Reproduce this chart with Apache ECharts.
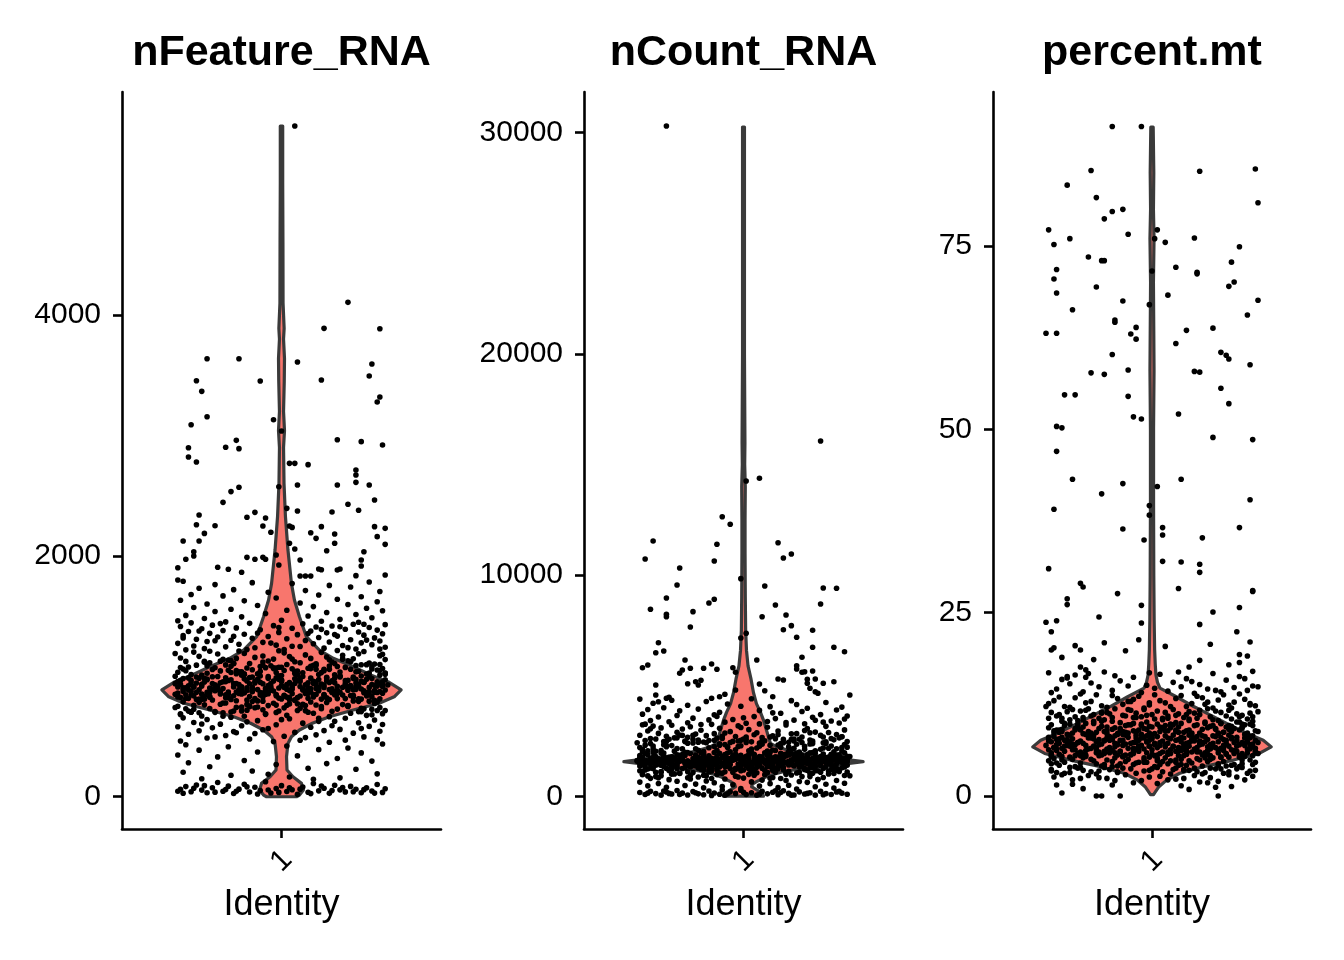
<!DOCTYPE html>
<html><head><meta charset="utf-8">
<script src="https://cdn.jsdelivr.net/npm/echarts@6/dist/echarts.min.js"></script>
<style>html,body{margin:0;padding:0;background:#fff;}#c{width:1344px;height:960px;}</style>
</head><body><div id="c"></div>
<script>
const identities = ['1'];
const panelTitles = ['nFeature_RNA', 'nCount_RNA', 'percent.mt'];
const featTicks = [0, 2000, 4000];
const countTicks = [0, 10000, 20000, 30000];
const mtTicks = [0, 25, 50, 75];
const featRange = [-268, 5853];
const countRange = [-1469, 31835];
const mtRange = [-4.5, 96.0];

// violin profiles: value levels and density (normalised to max = 1)
const featViolinVals = [0,14,56,111,166,222,332,443,498,554,610,664,720,776,830,888,950,1010,1080,1150,1218,1329,1495,1634,1772,2049,2326,2603,2900,3040,3200,3450,3640,3800,3890,4100,4600,5100,5570];
const featViolinDens = [0.125,0.15,0.183,0.167,0.096,0.046,0.042,0.054,0.083,0.15,0.258,0.4,0.6,0.817,0.942,1,0.9,0.75,0.6,0.433,0.317,0.208,0.15,0.108,0.083,0.054,0.033,0.021,0.017,0.025,0.017,0.023,0.025,0.017,0.022,0.013,0.012,0.01,0.01];
const countViolinVals = [14,120,220,330,443,560,669,780,895,1010,1121,1240,1347,1460,1573,1690,1800,1910,2025,2250,2404,2700,3000,3450,3800,4200,4700,5300,5900,6600,7500,9000,11000,12500,14000,15000,16000,20000,25000,30250];
const countViolinDens = [0.167,0.158,0.133,0.1,0.067,0.075,0.108,0.15,0.192,0.25,0.333,0.458,0.625,0.833,1,0.833,0.642,0.517,0.417,0.275,0.225,0.208,0.192,0.167,0.142,0.108,0.083,0.063,0.038,0.025,0.018,0.015,0.013,0.013,0.015,0.01,0.012,0.008,0.008,0.008];
const mtViolinVals = [0.2,0.4,1.27,2.2,3.1,4.0,4.9,5.8,6.7,7.6,8.55,9.7,11.3,12.2,13.5,14.7,15.5,16.5,18,20,24,30,40,50,58,63,70,76,80,85,91.2];
const mtViolinDens = [0.013,0.021,0.058,0.125,0.233,0.433,0.683,0.9,1,0.933,0.792,0.65,0.458,0.35,0.208,0.067,0.046,0.033,0.027,0.022,0.018,0.015,0.013,0.013,0.017,0.015,0.012,0.017,0.012,0.015,0.01];

// cells: alternating [jitter (hundredths of a category), value]
const featPts = [
5,5571,25,4106,16,3890,37,3887,-28,3638,-16,3638,6,3610,34,3594,-32,3455,-8,3453,15,3461,33,3494,-30,3367,37,3320,36,3278,-28,3156,-34,3090,-3,3131,0,3037,21,2965,30,2949,38,2921,-35,2899,-21,2902,-17,2960,-16,2891,-35,2822,-32,2780,3,2769,5,2769,10,2758,-1,2575,6,2589,21,2589,28,2714,28,2672,28,2611,33,2589,-16,2570,-19,2534,-22,2445,35,2464,25,2429,29,2379,19,2365,6,2373,2,2395,-10,2362,-13,2321,-6,2315,-31,2340,-32,2259,-25,2251,-7,2248,3,2248,4,2237,-4,2196,11,2193,15,2243,20,2182,13,2146,35,2243,39,2229,36,2160,-29,2187,-37,2124,-31,2124,39,2096,3,2105,5,2057,20,2105,17,2043,31,2035,-33,2035,-33,1999,-13,1988,-10,1972,-7,1988,-6,1972,-2,2008,-36,1972,7,1966,30,1966,30,1916,-39,1902,-24,1906,-20,1889,-15,1864,14,1891,15,1885,21,1883,22,1891,39,1841,-1,1925,-39,1800,7,1833,9,1833,11,1833,28,1836,
-37,1790,-25,1762,-11,1778,4,1771,18,1755,33,1783,-31,1731,-18,1720,9,1712,26,1742,37,1705,-5,1698,-34,1680,14,1676,-22,1668,30,1661,-2,1650,21,1640,-38,1632,-14,1627,36,1619,7,1609,-28,1601,25,1596,-9,1588,12,1579,-33,1571,32,1566,-19,1557,2,1549,38,1545,-25,1538,17,1530,-6,1522,28,1514,-36,1506,10,1501,-15,1494,34,1487,-29,1480,22,1473,0,1466,-39,1461,15,1457,-21,1452,29,1449,
-34,1444,-12,1440,8,1437,27,1433,39,1429,-26,1425,-3,1421,19,1418,-38,1414,13,1410,33,1406,-17,1402,4,1399,-30,1395,24,1391,-8,1387,36,1384,-22,1380,11,1376,-35,1372,29,1368,-1,1365,17,1361,-27,1357,38,1353,-14,1349,6,1346,31,1342,-37,1338,21,1334,-5,1331,-24,1327,14,1323,35,1319,-11,1316,2,1312,-32,1308,26,1304,-19,1300,9,1297,37,1293,-28,1289,18,1285,-7,1282,30,1278,-39,1274,12,1271,-16,1267,34,1263,-2,1259,23,1256,-33,1252,7,1248,-21,1245,39,1241,-10,1237,16,1234,-29,1230,28,1227,1,1223,-36,1220,-23,1438,22,1412,-31,1377,10,1355,-18,1333,32,1301,-4,1276,25,1238,-13,1222,37,1226,-9,1360,15,1390,-25,1295,4,1250,31,1432,-37,1318,20,1347,-1,1405,
-38,1152,-33,1201,-29,1117,-24,1185,-20,1134,-16,1210,-12,1106,-7,1168,-3,1143,1,1195,5,1121,9,1178,13,1103,17,1160,21,1214,25,1129,29,1187,33,1111,37,1171,39,1139,
-36,1124,-31,1166,-27,1208,-22,1141,-18,1108,-14,1190,-10,1157,-5,1127,-1,1212,3,1164,7,1113,11,1149,15,1199,19,1118,23,1175,27,1145,31,1206,35,1102,38,1183,-40,1189,
-39,1034,-35,1078,-30,1011,-26,1057,-21,1095,-17,1022,-13,1069,-8,1041,-4,1088,0,1006,4,1063,8,1029,12,1091,16,1047,20,1013,24,1074,28,1038,32,1097,36,1052,39,1018,
-37,1061,-32,1093,-28,1026,-23,1045,-19,1083,-15,1009,-11,1055,-6,1072,-2,1031,2,1098,6,1044,10,1067,14,1015,18,1086,22,1036,26,1059,30,1003,34,1079,37,1049,-9,1020,
-34,1014,-25,1071,-16,1037,-7,1092,5,1024,13,1058,21,1081,29,1042,38,1065,-20,1050,0,1076,33,1027,
-39,957,-35,921,-31,984,-27,903,-23,946,-19,972,-15,914,-11,995,-7,938,-3,961,1,907,5,979,9,929,13,952,17,991,21,918,25,966,29,934,33,999,37,943,
-37,982,-33,911,-29,953,-25,927,-21,988,-17,940,-13,904,-9,969,-5,923,-1,976,3,948,7,916,11,985,15,936,19,962,23,909,27,993,31,950,35,925,39,971,
-38,933,-34,968,-30,919,-26,996,-22,955,-18,912,-14,979,-10,944,-6,901,-2,987,2,931,6,963,10,906,14,974,18,949,22,997,26,915,30,958,34,981,38,920,
-36,905,-32,945,-28,977,-24,915,-20,965,-16,932,-12,990,-8,951,-4,912,0,970,4,925,8,998,12,959,16,908,20,983,24,941,28,913,32,975,36,954,-40,939,
-39,862,-35,817,-31,889,-27,834,-23,871,-19,808,-15,853,-11,896,-7,828,-3,878,1,842,5,805,9,866,13,899,17,821,21,857,25,885,29,813,33,848,37,874,
-37,893,-33,838,-29,810,-25,881,-21,846,-17,869,-13,803,-9,891,-5,855,-1,819,3,883,7,836,11,872,15,811,19,897,23,844,27,826,31,864,35,801,39,887,
-38,826,-34,875,-30,852,-26,804,-22,898,-18,839,-14,861,-10,816,-6,884,-2,849,2,893,6,823,10,858,14,880,18,807,22,870,26,841,30,895,34,831,38,859,
-36,846,-32,807,-28,868,-24,890,-20,823,-16,877,-12,833,-8,865,-4,897,0,812,4,856,8,886,12,829,16,848,20,874,24,815,28,892,32,838,36,866,-40,851,
-39,752,-35,711,-31,784,-27,733,-23,768,-19,704,-15,745,-11,791,-7,722,-3,776,1,738,5,799,9,715,13,762,17,783,21,728,25,757,29,707,33,794,37,741,
-37,788,-33,727,-29,763,-25,701,-21,779,-17,742,-13,719,-9,796,-5,757,-1,712,3,771,7,734,11,787,15,748,19,709,23,765,27,795,31,730,35,774,39,716,
-38,683,-30,671,-22,697,-14,668,-6,689,2,676,10,702,18,665,26,693,34,680,-34,704,-18,712,6,716,30,707,-2,699,38,690,
-40,1001,-37,873,-34,946,-31,812,-28,1087,-25,905,-22,778,-19,1032,-16,857,-13,962,-10,739,-7,1118,-4,884,-1,1003,2,827,5,941,8,768,11,1064,14,899,17,986,20,846,23,1142,26,917,29,792,32,1019,35,868,38,954,
-39,911,-36,1046,-33,759,-30,934,-27,867,-24,999,-21,822,-18,1105,-15,893,-12,748,-9,975,-6,851,-3,1071,0,924,3,806,6,1013,9,878,12,940,15,731,18,1058,21,887,24,964,27,842,30,1096,33,908,36,786,39,1027,
-38,1073,-35,886,-32,995,-29,836,-26,941,-23,1126,-20,869,-17,797,-14,1018,-11,910,-8,845,-5,983,-2,761,1,1049,4,892,7,958,10,818,13,1093,16,927,19,871,22,1004,25,753,28,945,31,880,34,1061,37,813,40,929,
-37,655,-28,641,-19,660,-9,632,3,648,14,626,24,652,35,637,-33,617,-23,603,-13,622,-2,598,8,611,19,589,29,615,38,600,-39,581,-26,572,-15,590,-5,566,11,577,22,559,33,584,-31,548,-18,541,-7,556,5,535,16,549,27,528,37,544,-35,519,-21,509,-10,525,1,502,13,514,31,497,-28,488,-12,479,9,491,24,470,-38,463,-3,458,18,452,36,474,-17,532,30,566,-30,604,0,640,20,627,-25,497,7,469,
-36,432,-20,415,2,421,25,405,38,438,-31,387,-9,372,14,391,30,364,-39,346,-24,331,6,339,21,317,-14,301,34,296,-35,282,-2,268,17,275,-27,249,10,236,28,228,-11,214,-37,203,36,190,-19,178,3,164,22,157,-30,149,12,145,-5,186,
-38,62,-36,84,-34,41,-32,97,-30,55,-28,33,-26,74,-24,118,-22,46,-20,88,-18,27,-16,63,-14,104,-12,39,-10,79,-8,52,-6,125,-4,31,-2,68,0,92,2,44,4,58,6,21,8,81,10,37,12,110,14,49,16,70,18,28,20,95,22,57,24,40,26,86,28,62,30,33,32,75,34,48,36,101,38,36,39,66,-37,29,-33,71,-29,92,-25,38,-21,60,-17,45,-13,82,-9,23,-5,56,-1,36,3,74,7,63,11,26,15,89,19,52,23,77,27,41,31,59,35,30,-39,45
];

const countPts = [
-29,30300,29,16065,6,14380,1,14258,-8,12644,-5,12300,-34,11546,-37,10733,-10,11397,-11,10642,13,11469,15,10778,18,10959,-24,10326,-25,9558,-29,8970,-35,8459,-29,8233,-29,8125,-19,8352,-20,7660,-13,8744,-11,8911,-1,9843,8,9513,12,8654,7,8125,16,8202,15,7538,18,7719,20,7194,30,9422,35,9408,29,8699,26,7511,26,6742,34,6742,38,6544,-1,7163,1,7375,-32,6950,-33,6498,-30,6575,-38,5821,-36,5942,-22,6168,-20,5793,-23,5717,-24,5567,-21,5097,-18,5188,-17,5039,-16,5251,-15,5793,-12,5988,-10,5748,-33,5039,-4,5821,-3,5612,5,6168,6,5084,13,5310,15,5265,20,5911,20,5762,22,6290,22,5612,23,5640,26,5671,24,5296,24,5115,27,5310,30,5115,34,5188,25,4890,27,4736,28,4664,40,4587,8,4781,11,4510,-3,4813,-7,4618,-9,4510,-12,4438,-33,4587,-32,4284,-29,4438,
-39,4402,-34,4215,-27,4350,-21,4120,-14,4290,-6,4180,3,4420,10,4060,18,4330,24,3990,31,4250,37,4040,-36,3930,-30,4010,-24,3870,-17,3950,-9,3810,-1,4075,6,3890,14,3760,22,3840,29,3700,35,3910,39,3640,-38,3720,-32,3590,-25,3660,-19,3540,-11,3690,-4,3480,4,3610,12,3520,19,3450,26,3580,33,3410,38,3500,-35,3430,-28,3380,-21,3330,-13,3460,-7,3360,1,3310,9,3390,16,3340,23,3290,30,3360,36,3320,-37,3270,-16,3250,0,3555,27,3445,-10,3620,20,4155,-28,4480,11,3780,
-38,3240,-34,3180,-31,3100,-27,3220,-23,3050,-20,3150,-16,2990,-12,3260,-9,3080,-5,2930,-2,3190,2,3020,5,2880,9,3130,13,2960,16,3230,20,2840,24,3070,27,2910,31,3170,35,2800,38,3010,-39,2770,-36,2960,-32,2850,-29,2720,-25,2900,-21,2680,-18,2820,-14,2750,-10,2640,-7,2870,-3,2710,0,2600,4,2790,7,2660,11,2740,15,2580,18,2830,22,2690,25,2550,29,2760,33,2620,37,2700,-37,2530,-33,2600,-30,2480,-26,2650,-22,2510,-19,2580,-15,2460,-11,2540,-8,2620,-4,2490,1,2560,3,2470,8,2520,12,2610,17,2450,21,2590,26,2500,30,2430,34,2560,39,2480,-35,3060,-24,2780,-13,2530,-1,3120,10,2690,23,2980,32,2890,-28,2590,6,3280,19,2510,36,2650,
-39,2210,-35,2390,-31,2080,-27,2300,-23,2150,-19,2420,-15,2030,-11,2260,-7,2350,-3,2110,1,2440,5,2190,9,2050,13,2330,17,2240,21,2010,25,2370,29,2130,33,2280,37,2060,
-37,2320,-33,2040,-29,2250,-25,2170,-21,2410,-17,2090,-13,2200,-9,2380,-5,2020,-1,2290,3,2140,7,2360,11,2100,15,2430,19,2180,23,2270,27,2070,31,2400,35,2160,39,2230,
-38,2120,-30,2340,-22,2000,-14,2430,-6,2220,2,2070,10,2310,18,2130,26,2390,34,2020,-34,2280,-18,2160,6,2410,30,2190,-2,2260,38,2350,-26,2050,14,2230,22,2440,-10,2090,
-39,1850,-35,1730,-31,1960,-27,1790,-23,1900,-19,1710,-15,1870,-11,1990,-7,1760,-3,1920,1,1820,5,1700,9,1940,13,1780,17,1880,21,1740,25,1970,29,1810,33,1910,37,1750,
-37,1930,-33,1800,-29,1720,-25,1880,-21,1990,-17,1770,-13,1840,-9,1950,-5,1710,-1,1860,3,1980,7,1790,11,1730,15,1900,19,1830,23,1700,27,1950,31,1760,35,1870,39,1820,
-38,1760,-34,1990,-30,1830,-26,1730,-22,1950,-18,1870,-14,1720,-10,1810,-6,1960,-2,1740,2,1890,6,1800,10,1990,14,1750,18,1930,22,1860,26,1710,30,1920,34,1780,38,1970,
-36,1890,-28,1770,-20,1940,-12,1730,-4,1850,4,1910,12,1790,20,1960,28,1740,36,1880,-32,1700,-16,1980,0,1750,16,1830,32,1720,-24,1860,-8,1790,8,1970,24,1900,40,1810,
-39,1580,-35,1470,-31,1650,-27,1520,-23,1690,-19,1560,-15,1460,-11,1620,-7,1530,-3,1680,1,1490,5,1600,9,1550,13,1670,17,1480,21,1590,25,1640,29,1510,33,1610,37,1550,
-37,1630,-33,1540,-29,1690,-25,1460,-21,1600,-17,1510,-13,1660,-9,1570,-5,1450,-1,1620,3,1530,7,1680,11,1590,15,1470,19,1650,23,1520,27,1600,31,1690,35,1480,39,1570,
-38,1510,-34,1610,-30,1570,-26,1680,-22,1490,-18,1640,-14,1550,-10,1700,-6,1600,-2,1470,2,1650,6,1560,10,1500,14,1620,18,1580,22,1690,26,1460,30,1580,34,1660,38,1520,
-36,1560,-32,1660,-28,1490,-24,1600,-20,1530,-16,1670,-12,1580,-8,1480,-4,1640,0,1560,4,1690,8,1510,12,1600,16,1550,20,1470,24,1630,28,1590,32,1500,36,1620,-40,1600,
-39,1700,-31,1520,-23,1610,-15,1580,-7,1660,1,1540,9,1620,17,1590,25,1500,33,1570,-27,1470,-11,1690,5,1460,21,1650,37,1610,
-39,1380,-35,1290,-31,1430,-27,1330,-23,1260,-19,1400,-15,1310,-11,1440,-7,1350,-3,1270,1,1410,5,1320,9,1370,13,1250,17,1420,21,1340,25,1290,29,1390,33,1440,37,1300,
-37,1320,-33,1410,-29,1270,-25,1360,-21,1440,-17,1290,-13,1390,-9,1330,-5,1260,-1,1420,3,1350,7,1280,11,1430,15,1310,19,1380,23,1260,27,1400,31,1340,35,1280,39,1410,
-38,1440,-30,1350,-22,1300,-14,1420,-6,1370,2,1260,10,1340,18,1440,26,1310,34,1380,-34,1260,-18,1380,-2,1300,14,1400,30,1270,-26,1420,-10,1280,6,1410,22,1360,38,1330,
-39,1160,-33,1090,-27,1220,-21,1120,-15,1190,-9,1070,-3,1240,3,1140,9,1080,15,1210,21,1100,27,1170,33,1230,39,1110,-36,1240,-24,1060,-12,1150,0,1200,12,1090,24,1180,36,1130,
-37,1200,-31,1130,-25,1250,-19,1080,-13,1220,-7,1120,-1,1160,5,1070,11,1240,17,1140,23,1210,29,1100,35,1190,-28,1170,-16,1230,-4,1090,8,1180,20,1060,32,1150,-10,1200,
-40,1620,-37,1530,-34,1760,-31,1410,-28,1680,-25,1590,-22,1850,-19,1480,-16,1720,-13,1610,-10,1540,-7,1900,-4,1660,-1,1430,2,1780,5,1570,8,1640,11,1360,14,1700,17,1520,20,1820,23,1600,26,1450,29,1750,32,1560,35,1690,38,1490,
-39,1740,-36,1600,-33,1480,-30,1810,-27,1560,-24,1700,-21,1420,-18,1620,-15,1940,-12,1510,-9,1670,-6,1580,-3,1830,0,1640,3,1470,6,1720,9,1590,12,2080,15,1550,18,1660,21,1390,24,1780,27,1530,30,1620,33,1880,36,1580,39,1650,
-38,980,-35,2620,-32,850,-29,2480,-26,1020,-23,2760,-20,790,-17,2550,-14,930,-11,2840,-8,1050,-5,2440,-2,880,1,2690,4,960,7,2510,10,820,13,2790,16,1000,19,2600,22,900,25,2880,28,770,31,2470,34,1040,37,2700,40,940,
-38,1010,-31,940,-24,1040,-17,880,-10,990,-3,920,4,1030,11,860,18,970,25,900,32,1020,38,950,-35,820,-28,760,-21,850,-14,700,-7,790,0,830,7,740,14,810,21,680,28,770,35,720,-39,650,-32,590,-25,690,-18,560,-11,620,-4,530,3,660,10,580,17,510,24,640,31,550,38,600,-36,480,-29,420,-22,500,-15,390,-8,450,-1,360,6,470,13,400,20,340,27,440,34,380,-20,950,2,1000,16,720,-12,810,30,860,-33,900,
-39,180,-37,90,-35,240,-33,130,-31,60,-29,200,-27,110,-25,270,-23,150,-21,70,-19,220,-17,120,-15,80,-13,250,-11,160,-9,100,-7,60,-5,210,-3,140,-1,280,1,90,3,170,5,60,7,230,9,120,11,190,13,80,15,260,17,140,19,70,21,210,23,110,25,170,27,60,29,240,31,130,33,90,35,200,37,150,39,100,-36,150,-30,250,-24,90,-18,170,-12,50,-6,120,0,190,6,100,12,260,18,60,24,140,30,80,36,230,-28,140,14,180,-8,290
];

const mtPts = [
-15,91.3,-4,91.3,-23,85.3,18,85.2,39,85.5,-32,83.3,40,80.9,-21,81.6,-15,79.7,-11,80.0,-18,78.7,-39,77.2,2,77.2,-37,75.2,-31,76.0,-9,76.6,1,76.0,5,75.5,16,76.1,33,74.9,-24,73.5,-19,73.0,-18,73.0,30,72.8,-36,71.8,0,71.6,9,72.1,17,71.4,17,71.2,-37,70.5,31,70.1,29,69.5,-21,69.4,-36,68.6,6,68.3,-11,67.5,40,67.6,-1,67.0,-30,66.3,36,65.6,-14,64.9,-14,64.6,-6,63.9,23,63.8,13,63.5,-40,63.1,-36,63.1,-8,63.0,-6,62.3,9,61.7,26,60.5,28,60.1,29,59.6,-15,60.2,37,58.8,-23,57.7,-18,57.5,-9,58.1,16,57.9,18,57.8,-33,54.7,-29,54.7,-9,54.5,26,55.6,29,53.5,10,52.1,-7,51.7,-4,51.4,-36,50.4,-34,50.2,23,48.9,38,48.6,-36,47.0,-30,43.2,11,43.2,-11,42.6,-19,41.2,2,42.2,37,40.4,-37,39.1,-1,39.6,-1,38.3,-11,36.4,4,36.6,4,35.6,-3,34.9,33,36.6,19,35.2,-39,31.0,4,32.0,11,31.9,18,31.6,18,30.5,-27,29.0,-26,28.5,10,28.3,-13,27.6,38,28.0,38,27.9,-32,26.9,-32,26.1,-4,26.0,33,25.7,23,25.1,-20,24.4,-40,23.7,-36,23.9,-4,23.6,18,23.4,-38,22.4,32,22.4,-5,21.3,37,21.0,-18,20.9,22,20.7,5,20.4,-29,20.5,-38,19.9,-37,20.2,-27,19.9,-10,19.8,-34,18.9,-22,18.6,33,19.3,33,18.2,36,19.1,18,18.5,14,17.6,29,17.9,-27,17.6,-25,17.2,-24,16.7,38,17.0,-32,16.3,-32,16.1,
-39,16.8,-34,15.9,-29,16.5,-23,15.4,-18,16.9,-12,15.7,-7,16.2,-2,15.1,3,16.6,8,15.5,13,16.0,18,15.2,23,16.7,28,15.8,33,16.3,38,15.0,-36,14.6,-31,15.3,-26,14.2,-20,14.9,-15,14.4,-9,15.0,-4,14.1,1,14.7,6,14.3,11,14.9,16,14.0,21,14.6,26,14.2,31,14.8,36,14.4,40,14.9,-38,14.1,-14,16.4,10,16.9,35,16.0,-25,16.2,24,14.4,-1,16.8,15,15.6,
-39,12.6,-35,13.5,-31,12.1,-27,13.9,-23,12.9,-19,12.3,-15,13.7,-11,12.5,-7,13.2,-3,12.0,1,13.8,5,12.7,9,13.3,13,12.2,17,13.6,21,12.8,25,13.1,29,12.4,33,13.9,37,12.6,-37,13.0,-33,12.2,-29,13.4,-25,12.7,-21,13.8,-17,12.1,-13,13.3,-9,12.9,-5,13.6,-1,12.4,3,13.0,7,12.2,11,13.7,15,12.6,19,13.4,23,12.0,27,13.8,31,12.8,35,13.2,39,12.3,
-38,11.4,-34,10.2,-30,11.8,-26,10.7,-22,11.1,-18,10.4,-14,11.9,-10,10.9,-6,11.3,-2,10.1,2,11.6,6,10.6,10,11.2,14,10.3,18,11.7,22,10.8,26,11.4,30,10.5,34,11.0,38,10.2,-36,10.9,-32,11.5,-28,10.3,-24,11.9,-20,10.6,-16,11.2,-12,10.0,-8,11.7,-4,10.8,0,11.1,4,10.4,8,11.8,12,10.7,16,11.3,20,10.1,24,11.6,28,10.9,32,11.2,36,10.5,40,11.5,-39,10.6,-35,11.1,-31,10.4,-27,11.6,-23,10.9,-19,11.4,-15,10.2,-11,11.0,-7,10.7,-3,11.8,1,10.5,5,11.4,9,10.0,13,11.1,17,10.6,21,11.9,25,10.3,29,11.7,33,10.8,37,11.3,
-39,9.3,-35,8.7,-31,9.8,-27,9.0,-23,8.6,-19,9.5,-15,9.1,-11,8.8,-7,9.9,-3,9.2,1,8.5,5,9.6,9,9.0,13,8.9,17,9.7,21,9.3,25,8.6,29,9.4,33,9.0,37,9.8,-37,8.9,-33,9.6,-29,9.2,-25,9.9,-21,8.7,-17,9.4,-13,8.5,-9,9.7,-5,9.0,-1,9.5,3,8.8,7,9.3,11,9.9,15,8.6,19,9.1,23,9.6,27,8.7,31,9.2,35,9.7,39,8.9,-38,9.7,-34,9.1,-30,8.6,-26,9.4,-22,9.9,-18,8.8,-14,9.3,-10,9.6,-6,8.7,-2,9.1,2,9.8,6,8.9,10,9.4,14,9.0,18,8.6,22,9.5,26,9.9,30,8.8,34,9.3,38,9.6,-36,9.0,-28,9.8,-20,9.2,-12,8.9,-4,9.6,4,9.2,12,8.7,20,9.9,28,9.4,36,8.6,
-39,7.8,-35,7.2,-31,8.3,-27,7.5,-23,8.0,-19,7.1,-15,7.7,-11,8.4,-7,7.3,-3,7.9,1,7.0,5,8.2,9,7.6,13,7.2,17,8.1,21,7.7,25,7.4,29,8.3,33,7.0,37,7.9,-37,8.1,-33,7.6,-29,7.0,-25,8.4,-21,7.4,-17,7.9,-13,7.1,-9,8.0,-5,7.6,-1,8.3,3,7.3,7,7.8,11,8.0,15,7.5,19,7.1,23,8.2,27,7.7,31,7.3,35,8.4,39,7.6,-38,7.4,-34,8.0,-30,7.8,-26,7.2,-22,8.3,-18,7.6,-14,8.2,-10,7.1,-6,7.9,-2,7.4,2,8.1,6,7.2,10,7.7,14,8.3,18,7.5,22,7.0,26,8.0,30,7.8,34,7.3,38,8.2,-36,7.7,-32,8.4,-28,7.3,-24,7.9,-20,7.0,-16,8.1,-12,7.6,-8,7.2,-4,8.4,0,7.8,4,7.5,8,8.3,12,7.0,16,7.9,20,7.4,24,8.1,28,7.2,32,7.6,36,7.9,40,7.3,
-39,6.3,-35,5.7,-31,6.8,-27,6.0,-23,6.5,-19,5.6,-15,6.2,-11,6.9,-7,5.8,-3,6.4,1,5.5,5,6.7,9,6.1,13,5.7,17,6.6,21,6.2,25,5.9,29,6.8,33,5.5,37,6.4,-37,6.6,-33,6.1,-29,5.5,-25,6.9,-21,5.9,-17,6.4,-13,5.6,-9,6.5,-5,6.1,-1,6.8,3,5.8,7,6.3,11,6.5,15,6.0,19,5.6,23,6.7,27,6.2,31,5.8,35,6.9,39,6.1,-38,5.9,-34,6.5,-30,6.3,-26,5.7,-22,6.8,-18,6.1,-14,6.7,-10,5.6,-6,6.4,-2,5.9,2,6.6,6,5.7,10,6.2,14,6.8,18,6.0,22,5.5,26,6.5,30,6.3,34,5.8,38,6.7,-36,6.2,-32,6.9,-28,5.8,-24,6.4,-20,5.5,-16,6.6,-12,6.1,-8,5.7,-4,6.9,0,6.3,4,6.0,8,6.8,12,5.5,16,6.4,20,5.9,24,6.6,28,5.7,32,6.1,36,6.4,40,5.8,
-39,4.8,-35,4.2,-31,5.3,-27,4.5,-23,5.0,-19,4.1,-15,4.7,-11,5.4,-7,4.3,-3,4.9,1,4.0,5,5.2,9,4.6,13,4.2,17,5.1,21,4.7,25,4.4,29,5.3,33,4.0,37,4.9,-37,5.1,-33,4.6,-29,4.0,-25,5.4,-21,4.4,-17,4.9,-13,4.1,-9,5.0,-5,4.6,-1,5.3,3,4.3,7,4.8,11,5.0,15,4.5,19,4.1,23,5.2,27,4.7,31,4.3,35,5.4,39,4.6,-38,4.4,-30,5.0,-22,4.8,-14,5.2,-6,4.5,2,5.1,10,4.2,18,4.9,26,5.3,34,4.4,-34,4.9,-18,4.3,-2,4.6,14,4.8,30,4.2,-26,5.2,-10,4.7,6,4.4,22,5.0,38,4.3,
-40,6.9,-37,8.6,-34,5.4,-31,7.3,-28,9.5,-25,6.2,-22,7.8,-19,10.2,-16,5.9,-13,7.0,-10,8.3,-7,6.5,-4,9.8,-1,7.6,2,5.6,5,8.9,8,6.7,11,7.4,14,10.5,17,6.0,20,8.1,23,7.2,26,5.3,29,9.1,32,6.8,35,7.9,38,10.8,
-39,8.0,-36,6.4,-33,9.9,-30,7.1,-27,5.5,-24,8.8,-21,6.6,-18,7.5,-15,10.7,-12,6.1,-9,8.6,-6,7.3,-3,5.2,0,9.4,3,6.9,6,7.9,9,11.0,12,6.3,15,8.4,18,7.0,21,5.7,24,9.2,27,6.6,30,8.0,33,10.1,36,7.4,39,5.9,
-38,5.6,-35,9.0,-32,7.7,-29,6.3,-26,10.4,-23,7.9,-20,6.0,-17,8.9,-14,7.2,-11,5.4,-8,9.7,-5,6.8,-2,8.2,1,7.1,4,10.6,7,5.8,10,8.7,13,6.5,16,9.6,19,7.3,22,5.1,25,8.5,28,7.6,31,6.2,34,9.3,37,7.0,40,8.8,
-38,3.6,-33,3.1,-28,3.8,-23,3.3,-18,3.9,-13,3.2,-8,3.7,-3,3.4,2,3.9,7,3.0,12,3.6,17,3.3,22,3.8,27,3.1,32,3.7,37,3.4,-36,3.2,-31,3.9,-26,3.5,-21,3.0,-16,3.6,-11,3.8,-6,3.1,-1,3.5,4,3.3,9,3.8,14,3.5,19,3.0,24,3.7,29,3.3,34,3.9,39,3.5,-20,3.4,0,3.7,20,3.2,
-37,2.6,-30,2.2,-24,2.8,-17,2.4,-10,2.9,-4,2.1,3,2.7,9,2.3,16,2.8,22,2.5,29,2.9,35,2.2,-34,2.9,-27,2.4,-14,2.1,-1,2.6,12,2.4,25,2.0,38,2.7,-20,2.5,6,2.2,32,2.6,
-21,0.0,-19,0.0,-12,0.0,25,0.0,-34,0.4,-36,1.5,-26,1.0,24,1.2,11,1.4,-7,1.8,18,1.9,21,1.8,-30,1.6,30,1.3,2,1.7,-15,1.5,14,0.9
];

// extra cells in the dense cores: jitter positions shared, values per panel
const coreJitter = [-33,12,-8,27,-21,3,38,-14,19,-37,7,-2,31,-26,15,-11,24,-30,0,35,-18,9,-5,29,-39,17,-24,5,33,-12,21,-35,-1,13,-28,26,-7,37,-16,10];
const featCoreExtra = [912,847,1003,889,956,821,934,1018,866,905,979,838,951,893,1031,874,925,809,968,882,941,857,998,916,829,962,897,1042,871,938,815,987,903,850,972,924,861,1010,890,946,
868,931,794,975,852,909,1026,883,946,818,895,1001,863,927,842,958,901,983,836,919,1047,879,941,811,966,891,854,1012,932,873,996,845,958,907,826,981,869,915,1038,899,
702,1083,745,1121,668,760,1098,713,1137,689,772,1064,735,1112,651,754,1146,697,1075,726,1130,763,684,1090,741,1058,708,1143,676,767,1106,731,1069,693,1125,749,1081,716,1149,758];
const countCoreExtra = [1520,1680,1430,1790,1600,1350,1710,1560,1900,1470,1630,1820,1540,1390,1750,1610,1480,1960,1570,1660,1410,1840,1590,1700,1500,2030,1620,1450,1770,1550,1880,1640,1370,1730,1580,1990,1510,1690,1440,1810,
1650,1460,1740,1580,1330,1870,1620,1510,1690,2070,1560,1420,1780,1600,1920,1490,1670,1550,1380,1800,1630,1470,1720,1590,2010,1530,1680,1400,1850,1610,1500,1760,1570,1950,1640,1360,1710,1540,1830,1600,
2150,1180,2320,1050,2480,1260,2210,960,2590,1130,2270,1220,2690,1010,2390,1290,2130,1100,2540,1240,2770,980,2240,1160,2430,1070,2650,1200,2180,1120,2360,930,2510,1270,2290,1040,2720,1190,2450,1090];
const mtCoreExtra = [6.8,7.9,5.6,8.7,6.3,9.4,7.1,5.9,8.2,6.6,9.8,7.4,6.0,8.5,7.7,5.4,9.1,6.9,8.0,7.2,5.8,8.8,6.4,9.6,7.5,6.1,8.3,7.0,5.3,9.2,6.7,7.8,8.6,5.7,7.3,9.9,6.2,8.1,7.6,5.5,
7.4,6.1,8.9,5.8,7.7,9.3,6.5,8.4,5.2,7.0,9.7,6.8,8.0,5.6,7.5,8.7,6.3,9.0,7.2,5.9,8.5,6.6,7.9,9.5,5.4,7.1,8.2,6.0,9.8,7.6,6.4,8.8,5.7,7.3,9.1,6.9,8.3,5.5,7.8,6.2,
10.6,4.3,11.8,3.7,10.2,4.8,12.4,4.0,11.1,3.4,10.9,4.6,12.0,3.9,11.5,4.4,10.4,3.2,12.7,4.9,11.3,3.6,10.7,4.1,12.2,3.8,11.7,4.7,10.1,3.3,12.5,4.5,11.0,3.5,10.8,4.2,12.9,3.1,11.4,4.9];
const coreJitterShift = [0, 1, -1];

const FONT = '"Liberation Sans", Arial, Helvetica, sans-serif';
const panelLefts = [122, 584, 993];
const panelWidths = [319, 319, 318];
const ranges = [featRange, countRange, mtRange];
const ticks = [featTicks, countTicks, mtTicks];
const profiles = [[featViolinVals, featViolinDens], [countViolinVals, countViolinDens], [mtViolinVals, mtViolinDens]];
const cells = [featPts, countPts, mtPts];
const coreExtras = [featCoreExtra, countCoreExtra, mtCoreExtra];

function toPoints(flat, extra) {
  const out = [];
  for (let i = 0; i + 1 < flat.length; i += 2) out.push([1 + flat[i] / 100, flat[i + 1]]);
  for (let i = 0; i < extra.length; i++) {
    const j = coreJitter[i % coreJitter.length] + coreJitterShift[Math.floor(i / coreJitter.length) % 3];
    out.push([1 + j / 100, extra[i]]);
  }
  return out;
}
function violinRender(vals, dens) {
  return function (params, api) {
    const pts = [];
    for (let i = 0; i < vals.length; i++) pts.push(api.coord([1 + dens[i] * 0.45, vals[i]]));
    for (let i = vals.length - 1; i >= 0; i--) pts.push(api.coord([1 - dens[i] * 0.45, vals[i]]));
    return { type: 'polygon', shape: { points: pts }, style: { fill: '#F8766D', stroke: '#3a3a3a', lineWidth: 3.2, lineJoin: 'round' } };
  };
}

const grids = [], xAxes = [], yAxes = [], series = [], titles = [];
for (let g = 0; g < 3; g++) {
  grids.push({ left: panelLefts[g], top: 92, width: panelWidths[g], height: 737, containLabel: false, outerBoundsMode: 'none' });
  titles.push({ text: panelTitles[g], left: panelLefts[g] + panelWidths[g] / 2 - 5, top: 27, textAlign: 'center',
    textStyle: { fontSize: 43, fontWeight: 'bold', color: '#000', fontFamily: FONT } });
  xAxes.push({ gridIndex: g, type: 'value', min: 0.4, max: 1.6,
    name: 'Identity', nameLocation: 'middle', nameGap: 58,
    nameTextStyle: { fontSize: 36, color: '#000', fontFamily: FONT },
    axisLine: { show: true, onZero: false, lineStyle: { color: '#000', width: 2.6 } },
    axisTick: { show: true, customValues: [1], length: 9, lineStyle: { color: '#000', width: 2.6 } },
    axisLabel: { show: true, customValues: [1], formatter: v => identities[Math.round(v) - 1], rotate: 45,
      align: 'center', verticalAlign: 'middle', margin: 32, fontSize: 30, color: '#000', fontFamily: FONT },
    splitLine: { show: false } });
  yAxes.push({ gridIndex: g, type: 'value', min: ranges[g][0], max: ranges[g][1],
    axisLine: { show: true, onZero: false, lineStyle: { color: '#000', width: 2.6 } },
    axisTick: { show: true, customValues: ticks[g], length: 9, lineStyle: { color: '#000', width: 2.6 } },
    axisLabel: { show: true, customValues: ticks[g], formatter: v => String(v), margin: 21, fontSize: 30, color: '#000', fontFamily: FONT },
    splitLine: { show: false } });
  series.push({ type: 'custom', xAxisIndex: g, yAxisIndex: g, data: [[1, 0]], renderItem: violinRender(profiles[g][0], profiles[g][1]), silent: true, z: 2 });
  series.push({ type: 'scatter', xAxisIndex: g, yAxisIndex: g, data: toPoints(cells[g], coreExtras[g]), symbol: 'circle', symbolSize: 5.6,
    itemStyle: { color: '#000', opacity: 1, borderWidth: 0 }, silent: true, z: 3, large: false, progressive: 0 });
}

const chart = echarts.init(document.getElementById('c'), null, { renderer: 'canvas' });
chart.setOption({ backgroundColor: '#fff', animation: false, title: titles, grid: grids, xAxis: xAxes, yAxis: yAxes, series: series, tooltip: { show: false } });
</script></body></html>
